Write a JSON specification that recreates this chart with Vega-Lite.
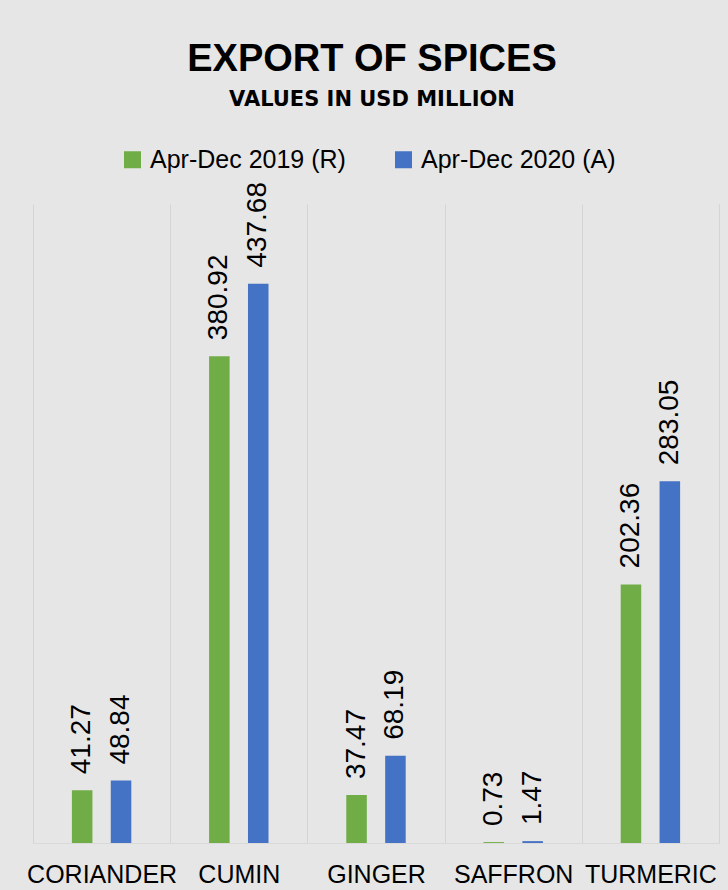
{
  "$schema": "https://vega.github.io/schema/vega-lite/v6.json",
  "width": 686,
  "height": 639,
  "autosize": {"type": "none"},
  "padding": {"left": 33, "top": 204, "right": 9, "bottom": 47},
  "background": "#E7E6E6",
  "config": {"view": {"stroke": null}},
  "title": {
    "text": "EXPORT OF SPICES",
    "subtitle": "VALUES IN USD MILLION",
    "anchor": "middle",
    "frame": "group",
    "offset": 37,
    "dx": -4,
    "font": "Liberation Sans",
    "fontSize": 38,
    "fontWeight": "bold",
    "color": "#000000",
    "subtitleFont": "DejaVu Sans",
    "subtitleFontSize": 21,
    "subtitleFontWeight": "bold",
    "subtitleColor": "#000000",
    "subtitlePadding": 10
  },
  "data": {
    "values": [
      {"spice": "CORIANDER", "period": "Apr-Dec  2019 (R)", "value": 41.27},
      {"spice": "CORIANDER", "period": "Apr-Dec  2020 (A)", "value": 48.84},
      {"spice": "CUMIN", "period": "Apr-Dec  2019 (R)", "value": 380.92},
      {"spice": "CUMIN", "period": "Apr-Dec  2020 (A)", "value": 437.68},
      {"spice": "GINGER", "period": "Apr-Dec  2019 (R)", "value": 37.47},
      {"spice": "GINGER", "period": "Apr-Dec  2020 (A)", "value": 68.19},
      {"spice": "SAFFRON", "period": "Apr-Dec  2019 (R)", "value": 0.73},
      {"spice": "SAFFRON", "period": "Apr-Dec  2020 (A)", "value": 1.47},
      {"spice": "TURMERIC", "period": "Apr-Dec  2019 (R)", "value": 202.36},
      {"spice": "TURMERIC", "period": "Apr-Dec  2020 (A)", "value": 283.05}
    ]
  },
  "encoding": {
    "x": {
      "field": "spice",
      "type": "nominal",
      "sort": ["CORIANDER", "CUMIN", "GINGER", "SAFFRON", "TURMERIC"],
      "scale": {"paddingInner": 0, "paddingOuter": 0},
      "axis": {
        "title": null,
        "labelAngle": 0,
        "labelFont": "Liberation Sans",
        "labelFontSize": 25,
        "labelColor": "#000000",
        "labelPadding": 19,
        "labelOverlap": false,
        "labelBound": false,
        "ticks": false,
        "domain": true,
        "domainColor": "#D9D9D9",
        "domainWidth": 1,
        "grid": true,
        "gridColor": "#D4D4D4",
        "gridWidth": 1,
        "tickBand": "extent"
      }
    },
    "xOffset": {
      "field": "period",
      "type": "nominal",
      "sort": ["Apr-Dec  2019 (R)", "Apr-Dec  2020 (A)"],
      "scale": {"paddingInner": 0.472, "paddingOuter": 1.139}
    },
    "y": {
      "field": "value",
      "type": "quantitative",
      "scale": {"domain": [0, 500], "nice": false},
      "axis": {
        "orient": "right",
        "title": null,
        "labels": false,
        "ticks": false,
        "grid": false,
        "domain": true,
        "domainColor": "#D4D4D4",
        "domainWidth": 1
      }
    }
  },
  "layer": [
    {
      "mark": {"type": "bar"},
      "encoding": {
        "color": {
          "field": "period",
          "type": "nominal",
          "sort": ["Apr-Dec  2019 (R)", "Apr-Dec  2020 (A)"],
          "scale": {"range": ["#70AD47", "#4472C4"]},
          "legend": {
            "orient": "none",
            "legendX": 87,
            "legendY": -57,
            "direction": "horizontal",
            "title": null,
            "padding": 0,
            "labelFont": "Liberation Sans",
            "labelFontSize": 25,
            "labelColor": "#000000",
            "labelOffset": 5,
            "labelLimit": 400,
            "symbolType": "square",
            "symbolSize": 289,
            "symbolStrokeWidth": 0,
            "columnPadding": 38
          }
        }
      }
    },
    {
      "mark": {
        "type": "text",
        "angle": -90,
        "align": "left",
        "baseline": "middle",
        "dx": 16,
        "font": "Liberation Sans",
        "fontSize": 28,
        "color": "#000000"
      },
      "encoding": {
        "text": {"field": "value", "type": "quantitative", "format": ".2f"}
      }
    }
  ]
}
